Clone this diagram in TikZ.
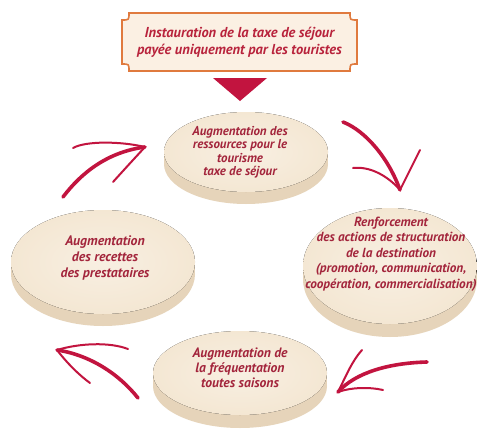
\documentclass[tikz,border=0pt]{standalone}
\usepackage{fontspec}
\setmainfont{PT Sans}
\definecolor{crim}{HTML}{C2143F}
\definecolor{txtred}{HTML}{A3253C}
\definecolor{bantxt}{HTML}{B8233C}
\definecolor{topface}{HTML}{F4E7D3}
\definecolor{topin}{HTML}{F8EFE2}
\definecolor{sideface}{HTML}{E6D4BA}
\definecolor{banfill}{HTML}{FBF0E3}
\definecolor{banline}{HTML}{E07A3E}
\tikzset{
  disktext/.style={align=center, text=txtred, font=\bfseries\itshape},
  mainstroke/.style={draw=crim, line width=3.6pt, line cap=round},
  headstroke/.style={draw=crim, line width=2pt, line cap=round},
}
\newcommand\mydisk[5]{%
  \fill[sideface] (#1,#2+#5) ellipse[x radius=#3pt, y radius=#4pt];
  \fill[sideface] (#1-#3,#2) rectangle (#1+#3,#2+#5);
  \fill[inner color=topin, outer color=topface] (#1,#2) ellipse[x radius=#3pt, y radius=#4pt];
}
\begin{document}
\begin{tikzpicture}[x=1pt,y=-1pt]
\useasboundingbox[fill=white] (0,0) rectangle (477,442);
% banner
\draw[banline, line width=1.6pt, fill=banfill]
  (129,13) -- (350,13) .. controls (350,20) .. (357,20) -- (357,64)
  .. controls (350,64) .. (350,71) -- (129,71) .. controls (129,64) .. (122,64)
  -- (122,20) .. controls (129,20) .. (129,13) -- cycle;
\node[text=bantxt, font=\fontsize{14.4}{17}\selectfont\bfseries\itshape, align=center] (ban) at (239.5,42)
  {Instauration de la taxe de séjour\\payée uniquement par les touristes};
\fill[crim] (213,78) -- (267,78) -- (240,101) -- cycle;
% disks
\mydisk{246}{152}{82}{40}{12}
\mydisk{390}{266}{87}{58}{13}
\mydisk{103}{262}{92}{52}{12}
\mydisk{240}{373}{87}{42}{13}
\node[disktext, font=\fontsize{12.9}{13.5}\selectfont\bfseries\itshape] (d1) at (240,152)
  {Augmentation des\\ressources pour le\\tourisme\\taxe de séjour};
\node[disktext, font=\fontsize{13.2}{15.5}\selectfont\bfseries\itshape] (d2) at (391,254)
  {Renforcement\\des actions de structuration\\de la destination\\(promotion, communication,\\coopération, commercialisation)};
\node[disktext, font=\fontsize{13.8}{16}\selectfont\bfseries\itshape] (d4) at (105,258)
  {Augmentation\\des recettes\\des prestataires};
\node[disktext, font=\fontsize{13.6}{15}\selectfont\bfseries\itshape] (d3) at (240,368)
  {Augmentation de\\la fréquentation\\toutes saisons};
% arrow coordinates
\coordinate (a1s) at (63,197);  \coordinate (a1t) at (145,147);
\coordinate (a2s) at (343,122); \coordinate (a2t) at (400,190);
\coordinate (a3s) at (427,362); \coordinate (a3t) at (338,392);
\coordinate (a4s) at (138,398); \coordinate (a4t) at (57,350);
% arrow 1 (top-left)
\draw[mainstroke] (a1s) .. controls (82,172) and (108,152) .. (a1t);
\draw[headstroke] (73,148) .. controls (85,141) and (120,141) .. (a1t);
\draw[headstroke] (a1t) .. controls (133,160) and (122,172) .. (113,182);
% arrow 2 (top-right)
\draw[mainstroke] (a2s) .. controls (366,131) and (389,159) .. (a2t);
\draw[headstroke] (353,168) .. controls (370,166) and (388,176) .. (a2t);
\draw[headstroke] (a2t) .. controls (407,176) and (414,162) .. (420,150);
% arrow 3 (bottom-right)
\draw[mainstroke] (a3s) .. controls (390,363) and (356,372) .. (a3t);
\draw[headstroke] (a3t) .. controls (346,376) and (352,361) .. (362,350);
\draw[headstroke] (a3t) .. controls (352,387) and (370,387) .. (383,390);
% arrow 4 (bottom-left)
\draw[mainstroke] (a4s) .. controls (119,374) and (90,355) .. (a4t);
\draw[headstroke] (a4t) .. controls (80,343) and (110,342) .. (128,349);
\draw[headstroke] (a4t) .. controls (67,363) and (79,375) .. (90,383);
\end{tikzpicture}
\end{document}
